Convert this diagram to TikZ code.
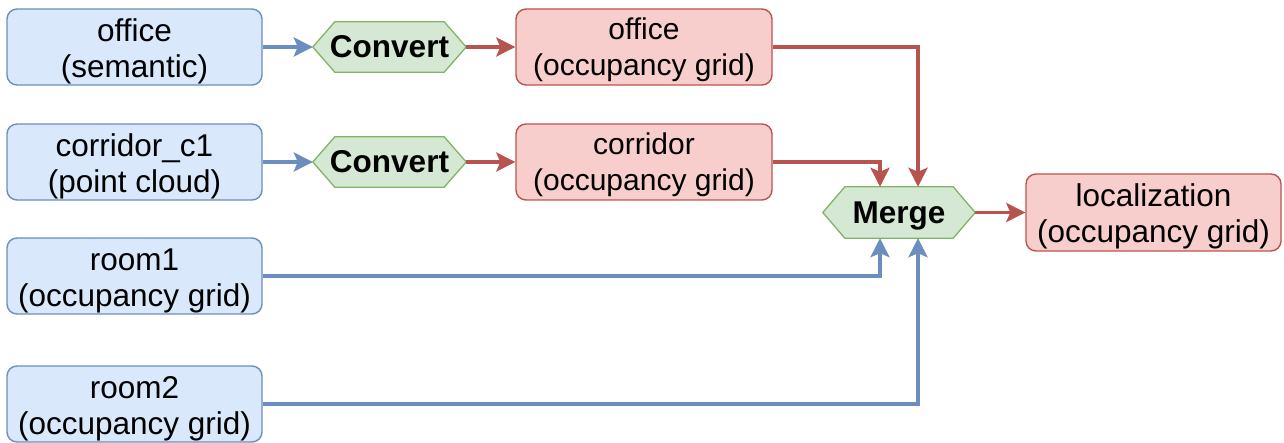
\documentclass[tikz,border=0pt]{standalone}
\usepackage{fontspec}
\setmainfont{Liberation Sans}
\usetikzlibrary{arrows.meta,backgrounds,calc}
\definecolor{bfill}{HTML}{DAE8FC}
\definecolor{bline}{HTML}{6C8EBF}
\definecolor{rfill}{HTML}{F8CECC}
\definecolor{rline}{HTML}{B85450}
\definecolor{gfill}{HTML}{D5E8D4}
\definecolor{gline}{HTML}{82B366}
\newcommand{\tpb}{\rule{0pt}{30.6pt}}
\newcommand{\tps}{\rule{0pt}{26.3pt}}
\newcommand{\hexdraw}[1]{%
  \begin{pgfonlayer}{background}
  \draw[gline,fill=gfill,line width=1.3pt,line join=miter]
    (#1.west) -- ([xshift=22pt]#1.north west) -- ([xshift=-22pt]#1.north east)
    -- (#1.east) -- ([xshift=-22pt]#1.south east) -- ([xshift=22pt]#1.south west) -- cycle;
  \end{pgfonlayer}}
\begin{document}
\begin{tikzpicture}[x=1pt,y=-1pt,
  every node/.style={align=center, inner sep=0pt},
  bigtext/.style={font=\fontsize{31.5}{36}\selectfont},
  smalltext/.style={font=\fontsize{30}{36}\selectfont},
  bluebox/.style={bigtext, draw=bline, fill=bfill, line width=1.4pt, rounded corners=10pt,
    minimum width=255pt, minimum height=76pt},
  redbox/.style={draw=rline, fill=rfill, line width=1.4pt, rounded corners=10pt,
    minimum width=256pt, minimum height=76pt},
  hexnode/.style={minimum width=153pt, minimum height=50pt, text depth=0pt,
    font=\fontsize{31.5}{36}\selectfont\bfseries},
  barrow/.style={draw=bline, line width=3.5pt, -{Stealth[length=19pt,width=19pt,inset=4pt]}},
  rarrow/.style={draw=rline, line width=3.5pt, -{Stealth[length=19pt,width=19pt,inset=4pt]}}
]
\useasboundingbox (0,0) rectangle (1284,443);

\node[bluebox] (o1) at (134.5,47) {\tpb office\\(semantic)};
\node[bluebox] (o2) at (134.5,162) {\tpb corridor\_c1\\(point cloud)};
\node[bluebox] (o3) at (134.5,276) {\tpb room1\\(occupancy grid)};
\node[bluebox] (o4) at (134.5,404) {\tpb room2\\(occupancy grid)};

\node[hexnode] (c1) at (389.5,47) {Convert};
\hexdraw{c1}
\node[hexnode] (c2) at (389.5,162) {Convert};
\hexdraw{c2}

\node[redbox, smalltext] (r1) at (644,47) {\tps office\\(occupancy grid)};
\node[redbox, smalltext] (r2) at (644,162) {\tps corridor\\(occupancy grid)};

\node[hexnode, minimum width=152pt, minimum height=51pt] (m) at (899,212.5) {Merge};
\hexdraw{m}

\node[redbox, bigtext, minimum width=255pt, minimum height=77pt] (loc) at (1153.5,212.5) {\tpb localization\\(occupancy grid)};

\draw[barrow] (o1) -- (c1);
\draw[barrow] (o2) -- (c2);
\draw[rarrow] (c1) -- (r1);
\draw[rarrow] (c2) -- (r2);
\draw[rarrow] (r1.east) -| ([xshift=19pt]m.north);
\draw[rarrow] (r2.east) -| ([xshift=-19pt]m.north);
\draw[barrow] (o3.east) -| ([xshift=-19pt]m.south);
\draw[barrow] (o4.east) -| ([xshift=19pt]m.south);
\draw[rarrow] (m) -- (loc);
\end{tikzpicture}
\end{document}
